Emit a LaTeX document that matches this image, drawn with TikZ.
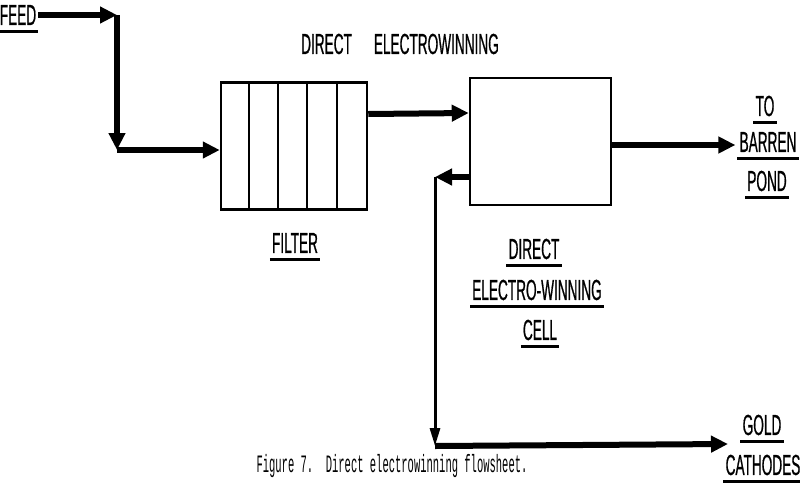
\documentclass[tikz,border=0pt]{standalone}
\usepackage{fontspec}
\newfontfamily\lblfont{Liberation Sans}[FakeStretch=0.47, FakeBold=0.6]
\newfontfamily\capfont{Liberation Mono}[FakeStretch=0.42]
\usetikzlibrary{arrows.meta}
\tikzset{
  lbl/.style={font=\lblfont\fontsize{29}{33}\selectfont, inner sep=0pt},
  ul/.style={line width=2.8pt},
  flow/.style={line width=6pt, -{Triangle[length=17pt,width=16pt]}},
  pipe/.style={line width=3pt, -{Triangle[length=18pt,width=10pt]}},
  unit/.style={draw, line width=2.5pt, rectangle, inner sep=0pt}
}
\begin{document}
\begin{tikzpicture}[x=1pt, y=-1pt]
    \useasboundingbox (0,0) rectangle (800,501);
    % Nodes
    \node[lbl] (feed) at (18,15) {FEED};
    \node[lbl] (title) at (400,44) {DIRECT\hspace{22pt}ELECTROWINNING};
    \node[unit, minimum width=146pt, minimum height=127pt] (filter) at (294,146) {};
    \node[lbl] (filterlbl) at (295,243) {FILTER};
    \node[unit, minimum width=141pt, minimum height=127pt] (cell) at (540.5,141.5) {};
    \node[lbl] (cell1) at (534,249) {DIRECT};
    \node[lbl] (cell2) at (537,290) {ELECTRO-WINNING};
    \node[lbl] (cell3) at (540,330) {CELL};
    \node[lbl] (to) at (765,106) {TO};
    \node[lbl] (barren) at (768,142) {BARREN};
    \node[lbl] (pond) at (767,181) {POND};
    \node[lbl] (gold) at (762,425) {GOLD};
    \node[lbl] (cathodes) at (763,465) {CATHODES};
    \node[font=\capfont\fontsize{25}{29}\selectfont, inner sep=0pt] (caption) at (392,466)
        {Figure 7.\ \ Direct electrowinning flowsheet.};
    \coordinate (c1) at (117,15);
    \coordinate (c2) at (117,150);
    \coordinate (r1) at (435,177);
    \coordinate (r2) at (435,446);
    \coordinate (g) at (728,444);

    % Filter plates
    \foreach \i in {1,...,4}
        \draw[line width=2pt] ([xshift=\i*29.2pt]filter.north west) -- ([xshift=\i*29.2pt]filter.south west);

    % Underlines
    \foreach \n in {feed,filterlbl,cell1,cell2,cell3,to,barren,pond,gold,cathodes}
        \draw[ul] ([xshift=-2pt,yshift=-6pt]\n.south west) -- ([xshift=2pt,yshift=-6pt]\n.south east);

    % Edges
    \draw[flow] ([xshift=2pt]feed.east) -- (c1);
    \draw[flow] (c1) -- (c2);
    \draw[flow] (c2) -- (filter.west |- c2);
    \draw[flow] ([yshift=32pt]filter.east) -- ([yshift=28.5pt]cell.west);
    \draw[flow] ([yshift=-3.5pt]cell.east) -- ([xshift=-4pt,yshift=-3pt]barren.west);
    \draw[flow] ([yshift=-35.5pt]cell.west) -- (r1);
    \draw[pipe] (r1) -- (r2);
    \draw[flow] (r2) -- (g);
\end{tikzpicture}
\end{document}
